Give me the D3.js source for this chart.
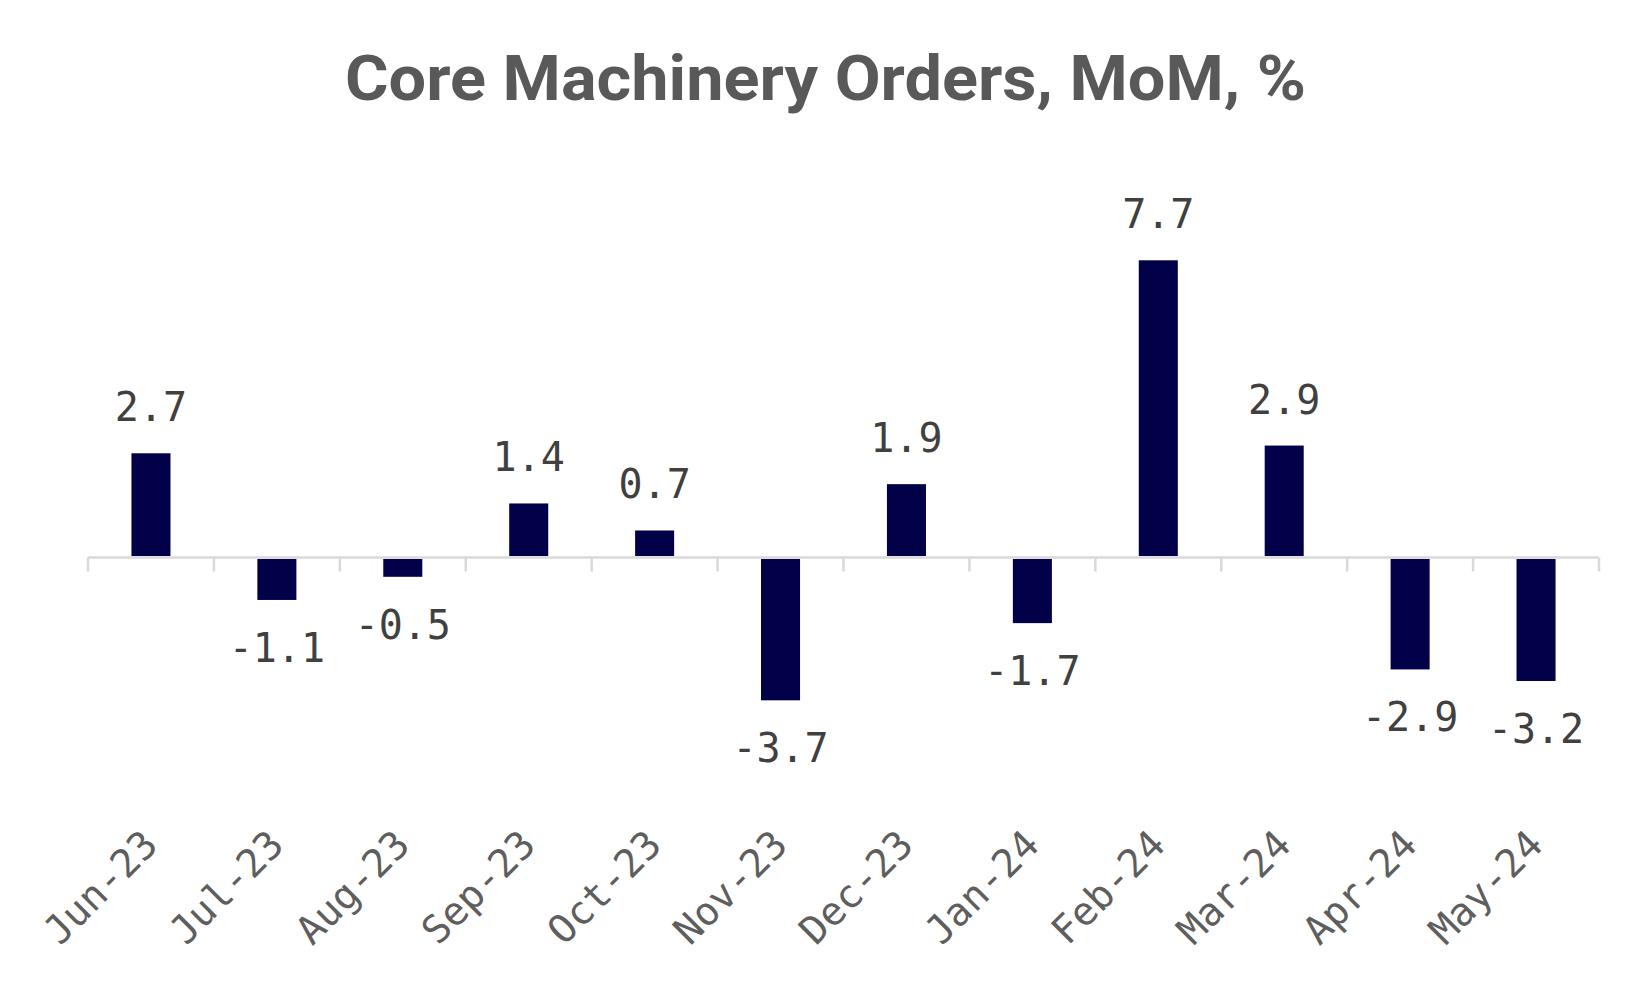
<!DOCTYPE html>
<html>
<head>
<meta charset="utf-8">
<script src="https://cdn.jsdelivr.net/npm/d3@7"></script>
<style>
  html, body { margin: 0; padding: 0; background: #ffffff; }
  svg { display: block; }
</style>
</head>
<body>
<svg id="chart" width="1650" height="990"></svg>
<script>
const titleText = "Core Machinery Orders, MoM, %";
const categories = ["Jun-23", "Jul-23", "Aug-23", "Sep-23", "Oct-23", "Nov-23",
                    "Dec-23", "Jan-24", "Feb-24", "Mar-24", "Apr-24", "May-24"];
const values = [2.7, -1.1, -0.5, 1.4, 0.7, -3.7, 1.9, -1.7, 7.7, 2.9, -2.9, -3.2];
const yDomain = [-6, 10];

const svg = d3.select("#chart");
const W = 1650, H = 990;
const left = 88, right = 1599;
const zeroY = 557.5, pxPerUnit = 38.6;

const x = d3.scaleBand().domain(categories).range([left, right]).paddingInner(0.69).paddingOuter(0.345);
const y = d3.scaleLinear().domain(yDomain)
  .range([zeroY - yDomain[0] * pxPerUnit, zeroY - yDomain[1] * pxPerUnit]);

// Title
const title = svg.append("text")
  .attr("x", 345).attr("y", 100)
  .attr("font-family", "Roboto, 'Noto Sans', sans-serif")
  .attr("font-weight", 700)
  .attr("font-size", 63)
  .attr("fill", "#595959")
  .text(titleText);
const tw = title.node().getComputedTextLength();
if (Math.abs(tw - 961) > 2) {
  title.attr("textLength", 961).attr("lengthAdjust", "spacingAndGlyphs");
}

// Bars
svg.append("g").selectAll("rect").data(values).join("rect")
  .attr("x", (d, i) => x(categories[i]))
  .attr("width", x.bandwidth())
  .attr("y", d => d >= 0 ? y(d) : y(0) + 1.5)
  .attr("height", d => d >= 0 ? y(0) - 1.5 - y(d) : y(d) - y(0) - 1.5)
  .attr("fill", "#03004a");

// Axis line with tick marks at category boundaries
const axisG = svg.append("g");
axisG.append("line")
  .attr("x1", left).attr("x2", right)
  .attr("y1", y(0)).attr("y2", y(0))
  .attr("stroke", "#d9d9d9").attr("stroke-width", 2.5);
const boundaries = d3.range(categories.length + 1).map(i => left + i * (right - left) / categories.length);
axisG.selectAll("line.tick").data(boundaries).join("line")
  .attr("class", "tick")
  .attr("x1", d => d).attr("x2", d => d)
  .attr("y1", y(0)).attr("y2", y(0) + 14)
  .attr("stroke", "#d9d9d9").attr("stroke-width", 2.5);

// Category labels (rotated)
svg.append("g").selectAll("text").data(categories).join("text")
  .attr("transform", d => `translate(${x(d) + x.bandwidth() / 2 + 9},${847}) rotate(-45)`)
  .attr("text-anchor", "end")
  .attr("font-family", "'DejaVu Sans Mono', monospace")
  .attr("font-size", 39)
  .attr("fill", "#5e5e5e")
  .text(d => d);

// Value labels
svg.append("g").selectAll("text").data(values).join("text")
  .attr("x", (d, i) => x(categories[i]) + x.bandwidth() / 2)
  .attr("y", d => d >= 0 ? y(d) - 32 : y(d) + 62)
  .attr("text-anchor", "middle")
  .attr("font-family", "'DejaVu Sans Mono', monospace")
  .attr("font-size", 40)
  .attr("fill", "#404040")
  .text(d => d.toFixed(1));
</script>
</body>
</html>
